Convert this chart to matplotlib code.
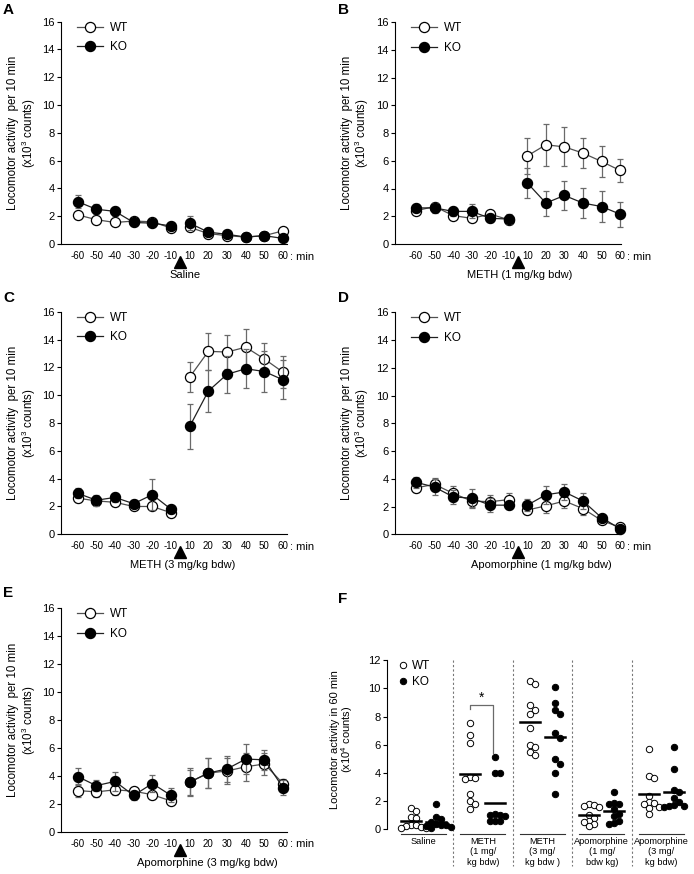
import numpy as np
import matplotlib
matplotlib.use('Agg')
import matplotlib.pyplot as plt
from matplotlib.lines import Line2D

plt.rcParams['font.family'] = ['Liberation Sans', 'DejaVu Sans']
plt.rcParams['mathtext.default'] = 'regular'
plt.rcParams['axes.linewidth'] = 0.8

# ---------------- data ----------------
time_labels = ['-60', '-50', '-40', '-30', '-20', '-10', '10', '20', '30', '40', '50', '60']

a_wt = [2.1, 1.75, 1.55, 1.65, 1.6, 1.15, 1.2, 0.75, 0.6, 0.5, 0.6, 0.95]
a_wt_err = [0.2, 0.15, 0.15, 0.15, 0.15, 0.15, 0.25, 0.15, 0.15, 0.1, 0.1, 0.15]
a_ko = [3.05, 2.5, 2.35, 1.55, 1.5, 1.3, 1.5, 0.85, 0.7, 0.5, 0.6, 0.4]
a_ko_err = [0.45, 0.35, 0.3, 0.15, 0.15, 0.15, 0.5, 0.3, 0.25, 0.1, 0.15, 0.1]

b_wt = [2.4, 2.7, 2.05, 1.85, 2.15, 1.75, 6.35, 7.15, 7.0, 6.55, 5.95, 5.3]
b_wt_err = [0.2, 0.25, 0.25, 0.2, 0.2, 0.3, 1.3, 1.5, 1.4, 1.1, 1.1, 0.85]
b_ko = [2.6, 2.6, 2.35, 2.35, 1.85, 1.8, 4.4, 2.95, 3.5, 2.95, 2.7, 2.15]
b_ko_err = [0.25, 0.35, 0.3, 0.5, 0.3, 0.35, 1.05, 0.9, 1.05, 1.1, 1.1, 0.9]

c_wt = [2.6, 2.4, 2.3, 2.0, 2.0, 1.55, 11.3, 13.15, 13.1, 13.45, 12.6, 11.65]
c_wt_err = [0.3, 0.3, 0.25, 0.2, 0.2, 0.2, 1.1, 1.35, 1.25, 1.3, 1.15, 1.15]
c_ko = [2.95, 2.45, 2.65, 2.2, 2.85, 1.8, 7.75, 10.3, 11.5, 11.9, 11.7, 11.1]
c_ko_err = [0.35, 0.4, 0.35, 0.25, 1.1, 0.25, 1.65, 1.5, 1.35, 1.4, 1.45, 1.4]

d_wt = [3.35, 3.6, 2.95, 2.4, 2.35, 2.5, 1.75, 2.05, 2.4, 1.85, 1.0, 0.5]
d_wt_err = [0.3, 0.45, 0.5, 0.45, 0.45, 0.5, 0.3, 0.5, 0.5, 0.45, 0.2, 0.15]
d_ko = [3.75, 3.4, 2.7, 2.6, 2.1, 2.1, 2.1, 2.85, 3.05, 2.4, 1.2, 0.4]
d_ko_err = [0.4, 0.55, 0.5, 0.7, 0.5, 0.3, 0.45, 0.65, 0.6, 0.55, 0.2, 0.15]

e_wt = [2.95, 2.85, 3.0, 2.9, 2.65, 2.2, 3.55, 4.2, 4.35, 4.65, 4.85, 3.45]
e_wt_err = [0.45, 0.35, 0.35, 0.25, 0.3, 0.2, 0.9, 1.05, 0.9, 1.0, 0.8, 0.3]
e_ko = [3.95, 3.3, 3.6, 2.6, 3.45, 2.6, 3.55, 4.2, 4.5, 5.2, 5.15, 3.15]
e_ko_err = [0.6, 0.4, 0.7, 0.3, 0.6, 0.5, 1.0, 1.05, 0.95, 1.1, 0.7, 0.55]

f_groups = ['Saline', 'METH\n(1 mg/\nkg bdw)', 'METH\n(3 mg/\nkg bdw )',
            'Apomorphine\n(1 mg/\nbdw kg)', 'Apomorphine\n(3 mg/\nkg bdw)']
f_wt = [
    [1.5, 1.3, 0.85, 0.75, 0.3, 0.25, 0.2, 0.15, 0.1, 0.1],
    [7.55, 6.7, 6.15, 3.7, 3.6, 3.55, 2.5, 2.0, 1.75, 1.45],
    [10.55, 10.3, 8.8, 8.5, 8.2, 7.2, 6.0, 5.85, 5.5, 5.25],
    [1.75, 1.7, 1.65, 1.6, 1.0, 0.8, 0.6, 0.5, 0.35, 0.2],
    [5.7, 3.75, 3.6, 2.35, 1.95, 1.85, 1.8, 1.6, 1.5, 1.05],
]
f_ko = [
    [1.8, 0.85, 0.7, 0.5, 0.35, 0.3, 0.25, 0.2, 0.15, 0.1],
    [5.15, 4.0, 3.95, 1.1, 1.0, 1.0, 0.95, 0.6, 0.55, 0.55],
    [10.1, 8.95, 8.5, 8.2, 6.8, 6.45, 5.0, 4.65, 3.95, 2.5],
    [2.65, 1.85, 1.8, 1.75, 1.45, 1.1, 0.9, 0.55, 0.4, 0.35],
    [5.85, 4.3, 2.75, 2.6, 2.2, 1.95, 1.7, 1.65, 1.65, 1.6],
]

panels = [
    ('A', a_wt, a_wt_err, a_ko, a_ko_err, 'Saline', 5.74),
    ('B', b_wt, b_wt_err, b_ko, b_ko_err, 'METH (1 mg/kg bdw)', 5.58),
    ('C', c_wt, c_wt_err, c_ko, c_ko_err, 'METH (3 mg/kg bdw)', 5.65),
    ('D', d_wt, d_wt_err, d_ko, d_ko_err, 'Apomorphine (1 mg/kg bdw)', 6.75),
    ('E', e_wt, e_wt_err, e_ko, e_ko_err, 'Apomorphine (3 mg/kg bdw)', 6.94),
]

# ---------------- layout (pixels) ----------------
W, H = 694, 874
fig = plt.figure(figsize=(W / 100, H / 100), dpi=100)


def rect(l, r, t, b):
    return [l / W, 1 - b / H, (r - l) / W, (b - t) / H]


rects = {
    'A': (rect(61, 287, 21.7, 244), (-0.89, 11.21)),
    'B': (rect(394.7, 621, 22, 244), (-1.15, 11.05)),
    'C': (rect(61, 287, 311.7, 534.3), (-0.89, 11.21)),
    'D': (rect(394.7, 621, 312.3, 534.3), (-1.15, 11.05)),
    'E': (rect(61, 287, 608.3, 831.7), (-0.89, 11.21)),
}
letter_pos = {'A': (3, 3), 'B': (338, 3), 'C': (3, 291), 'D': (338, 291), 'E': (3, 586), 'F': (338, 592)}

GRAY = '#6a6a6a'
x = np.arange(len(time_labels))
pre = slice(0, 6)
post = slice(6, 12)

for name, wt, wte, ko, koe, drug, drug_x in panels:
    r, xl = rects[name]
    ax = fig.add_axes(r)
    wt, wte, ko, koe = map(np.asarray, (wt, wte, ko, koe))
    for vals, errs, face, lc, z in ((wt, wte, 'white', '#505050', 3), (ko, koe, 'black', '#202020', 4)):
        for seg in (pre, post):
            eb = ax.errorbar(x[seg], vals[seg], yerr=errs[seg], fmt='none', ecolor=GRAY,
                             elinewidth=0.9, capsize=2.0, capthick=0.9, zorder=z - 1)
            for art in eb.lines[1] + eb.lines[2]:
                art.set_clip_on(False)
            ax.plot(x[seg], vals[seg], '-', color=lc, lw=0.9, marker='o', ms=7.3,
                    mfc=face, mec='black', mew=0.9, zorder=z, clip_on=False)
    ax.set_xlim(*xl)
    ax.set_ylim(0, 16)
    ax.set_yticks(np.arange(0, 17, 2))
    ax.set_xticks(x)
    ax.set_xticklabels(time_labels)
    ax.tick_params(axis='x', length=0, pad=5.0, labelsize=7.0)
    ax.tick_params(axis='y', length=3, width=0.8, pad=1.5, labelsize=8, direction='out')
    for s in ('top', 'right'):
        ax.spines[s].set_visible(False)
    # injection arrow
    xa = (x[5] + x[6]) / 2
    ax.plot([xa], [-0.08], transform=ax.get_xaxis_transform(), marker='^', ms=8,
            color='black', clip_on=False, ls='none')
    ax.text(11.36, -0.057, ': min', transform=ax.get_xaxis_transform(), ha='left',
            va='center', fontsize=8)
    ax.text(drug_x, -0.14, drug, transform=ax.get_xaxis_transform(), ha='center',
            va='center', fontsize=8)
    ax.text(-0.17, 0.5, 'Locomotor activity  per 10 min\n(x10$^3$ counts)',
            transform=ax.transAxes, rotation=90, ha='center', va='center',
            fontsize=8.3, multialignment='center', linespacing=1.0)
    h_wt = Line2D([], [], color='#505050', lw=0.9, marker='o', ms=7.3, mfc='white', mec='black', mew=0.9)
    h_ko = Line2D([], [], color='#202020', lw=0.9, marker='o', ms=7.3, mfc='black', mec='black', mew=0.9)
    ax.legend([h_wt, h_ko], ['WT', 'KO'], loc='upper left', bbox_to_anchor=(0.07, 1.0),
              frameon=False, fontsize=8.5, handlelength=2.2, handletextpad=0.6,
              labelspacing=0.65, borderpad=0, borderaxespad=0)

# ---------------- panel F ----------------
axf = fig.add_axes(rect(387, 694, 660.3, 829))
axf.set_xlim(-0.61, 4.55)
axf.set_ylim(0, 12)
axf.set_yticks(np.arange(0, 13, 2))
axf.set_xticks([])
for s in ('top', 'right', 'bottom'):
    axf.spines[s].set_visible(False)
axf.tick_params(axis='y', length=3, width=0.8, pad=1.5, labelsize=8)

px_x = 59.5   # pixels per x unit
px_y = 168.7 / 12  # pixels per y unit
diam = 6.0    # marker diameter (px)


def swarm(values, center):
    vals = np.asarray(values, float)
    order = np.argsort(-vals)
    placed = []
    xs = np.zeros(len(vals))
    step = 0.85 * diam
    for i in order:
        yp = vals[i] * px_y
        for k in [0, 1, -1, 2, -2, 3, -3, 4, -4]:
            xp = k * step
            if all((xp - a) ** 2 + (yp - b) ** 2 >= (0.85 * diam) ** 2 for a, b in placed):
                break
        placed.append((xp, yp))
        xs[i] = center + xp / px_x
    return xs, vals


off = 0.21
for g in range(len(f_groups)):
    for vals, sign, face in ((f_wt[g], -1, 'white'), (f_ko[g], 1, 'black')):
        c = g + sign * off
        xs, ys = swarm(vals, c)
        axf.plot(xs, ys, 'o', ms=4.6, mfc=face, mec='black', mew=0.7, zorder=3, clip_on=False)
        m = np.mean(vals)
        axf.plot([c - 0.17, c + 0.17], [m, m], color='black', lw=1.8, zorder=4)
    axf.plot([g - 0.38, g + 0.38], [-0.36, -0.36], color='#333333', lw=0.8, clip_on=False)
    axf.text(g, -0.6, f_groups[g], ha='center', va='top', fontsize=6.7, linespacing=1.15)
    if g < len(f_groups) - 1:
        axf.plot([g + 0.5, g + 0.5], [1.0, -0.22], transform=axf.get_xaxis_transform(),
                 color='#777777', lw=0.8, ls=(0, (2, 2)), clip_on=False)

# significance bracket METH 1 mg
bx0, bx1 = 1 - off, 1 + off - 0.04
axf.plot([bx0, bx0, bx1, bx1], [8.55, 8.8, 8.8, 5.4], color=GRAY, lw=0.9)
axf.text((bx0 + bx1) / 2, 8.85, '*', ha='center', va='bottom', fontsize=10)

axf.text(-0.145, 0.53, 'Locomotor activity in 60 min\n(x10$^4$ counts)', transform=axf.transAxes,
         rotation=90, ha='center', va='center', fontsize=8, multialignment='center', linespacing=1.0)

hw = Line2D([], [], ls='none', marker='o', ms=4.6, mfc='white', mec='black', mew=0.7)
hk = Line2D([], [], ls='none', marker='o', ms=4.6, mfc='black', mec='black', mew=0.7)
axf.legend([hw, hk], ['WT', 'KO'], loc='upper left', bbox_to_anchor=(0.04, 1.0), frameon=False,
           fontsize=8.5, handlelength=0.7, handletextpad=0.4, labelspacing=0.35,
           borderpad=0, borderaxespad=0)

for k, (lx, ly) in letter_pos.items():
    fig.text(lx / W, 1 - ly / H, k, ha='left', va='top', fontsize=11, fontweight='bold')

fig.savefig('out.png', dpi=100)
